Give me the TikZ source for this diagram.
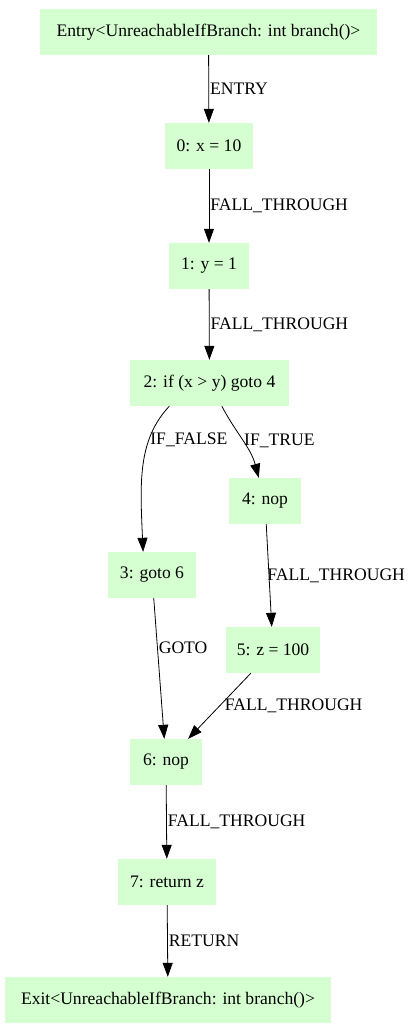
\documentclass[tikz,border=0pt]{standalone}
\usepackage{fontspec}
\setmainfont{Liberation Serif}
\usetikzlibrary{arrows.meta}
\definecolor{StmtGreen}{RGB}{213,255,208}

\tikzset{
  stmt/.style={fill=StmtGreen,minimum height=46pt,inner xsep=11pt,font=\fontsize{17.6}{20}\selectfont},
  flow/.style={-{Triangle[length=14pt,width=10pt]},line width=0.8pt},
  elabel/.style={right,inner sep=1pt,font=\fontsize{17.6}{20}\selectfont}
}

\begin{document}
\begin{tikzpicture}[x=1pt,y=1pt]
  \useasboundingbox (0,0) rectangle (414,-1029);
  \node[stmt,minimum width=337pt] (entry) at (208.5,-32) {Entry<UnreachableIfBranch: int branch()>};
  \node[stmt,minimum width=88pt] (s0) at (209,-146) {0: x = 10};
  \node[stmt,minimum width=80pt] (s1) at (209,-266) {1: y = 1};
  \node[stmt,minimum width=159pt] (s2) at (209.5,-383) {2: if (x > y) goto 4};
  \node[stmt,minimum width=72pt] (s4) at (265,-501) {4: nop};
  \node[stmt,minimum width=88pt] (s3) at (152,-575) {3: goto 6};
  \node[stmt,minimum width=88pt] (s5) at (273,-650) {5: z = 100};
  \node[stmt,minimum width=72pt] (s6) at (166,-762) {6: nop};
  \node[stmt,minimum width=98pt] (s7) at (167,-882) {7: return z};
  \node[stmt,minimum width=326pt] (exit) at (168,-1000) {Exit<UnreachableIfBranch: int branch()>};

  \draw[flow] (entry) -- node[elabel] {ENTRY} (s0);
  \draw[flow] (s0) -- node[elabel] {FALL\_THROUGH} (s1);
  \draw[flow] (s1) -- node[elabel] {FALL\_THROUGH} (s2);
  \draw[flow] (s2.-150) .. controls +(-32,-34) and +(-3,68) .. node[elabel,pos=0.3] {IF\_FALSE} (s3.111);
  \draw[flow] (s2.-62) to[out=-62,in=105] node[elabel,pos=0.5] {IF\_TRUE} (s4);
  \draw[flow] (s4) -- node[elabel,xshift=-3pt] {FALL\_THROUGH} (s5);
  \draw[flow] (s3) -- node[elabel,pos=0.35] {GOTO} (s6);
  \draw[flow] (s5) -- node[elabel,xshift=4pt] {FALL\_THROUGH} (s6);
  \draw[flow] (s6) -- node[elabel] {FALL\_THROUGH} (s7);
  \draw[flow] (s7) -- node[elabel] {RETURN} (exit);
\end{tikzpicture}
\end{document}
